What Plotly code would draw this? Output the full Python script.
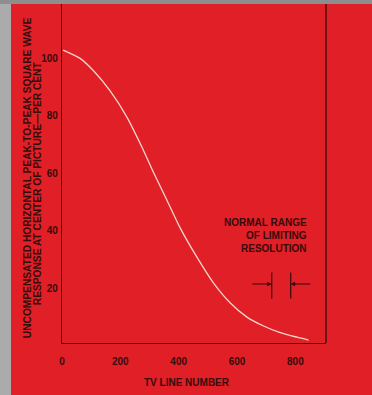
import plotly.graph_objects as go

# Data
tv_lines = [4, 62, 108, 165, 222, 279, 313, 359, 405, 462, 519, 577, 634, 691, 748, 806, 845]
response = [102.8, 99.9, 95.6, 88.6, 79.6, 68.0, 60.4, 50.8, 41.0, 30.9, 21.9, 14.9, 10.0, 6.9, 4.6, 3.0, 2.0]
x_ticks = [0, 200, 400, 600, 800]
y_ticks = [20, 40, 60, 80, 100]
limit_lo, limit_hi = 719, 784

RED = "#e11f26"
INK = "#350c0c"
FONT = "Liberation Sans"

fig = go.Figure()
fig.add_trace(go.Scatter(x=tv_lines, y=response, mode="lines",
                         line=dict(color="#f6d6cc", width=1.3, shape="spline", smoothing=0.6),
                         hoverinfo="skip", showlegend=False))

fig.update_layout(
    width=372, height=395, autosize=False,
    margin=dict(l=62, r=46, t=4, b=52),
    paper_bgcolor=RED, plot_bgcolor=RED,
    font=dict(family=FONT, color=INK, size=10, weight="bold"),
    xaxis=dict(range=[0, 905], tickvals=x_ticks, showgrid=False, zeroline=False,
               showline=True, linecolor=INK, linewidth=1.3, ticks="",
               ticklabelstandoff=9, tickfont=dict(size=10, weight="bold")),
    yaxis=dict(range=[1, 118.8], tickvals=y_ticks, showgrid=False, zeroline=False,
               showline=True, linecolor=INK, linewidth=1.3, ticks="",
               ticklabelstandoff=1, tickfont=dict(size=10, weight="bold")),
)

# right frame line
fig.add_shape(type="line", xref="paper", yref="paper", x0=1, x1=1, y0=0, y1=1,
              line=dict(color=INK, width=1.3))
# gray scan borders
fig.add_shape(type="rect", xref="paper", yref="paper",
              x0=-62/264, x1=-51/264, y0=-52/338.7, y1=1 + 4/338.7,
              line=dict(width=0), fillcolor="#ababab", layer="above")
fig.add_shape(type="rect", xref="paper", yref="paper",
              x0=-62/264, x1=1 + 46/264, y0=1, y1=1 + 4/338.7,
              line=dict(width=0), fillcolor="#8e8e8e", layer="above")

# y-axis title (two lines)
fig.add_annotation(text="UNCOMPENSATED HORIZONTAL PEAK-TO-PEAK SQUARE WAVE",
                   xref="paper", yref="paper", x=-35/264, y=(342.7-178)/338.7,
                   textangle=-90, showarrow=False, xanchor="center", yanchor="middle",
                   font=dict(size=10.2, weight="bold", color=INK))
fig.add_annotation(text="RESPONSE AT CENTER OF PICTURE\u2014PER CENT",
                   xref="paper", yref="paper", x=-25/264, y=(342.7-183)/338.7,
                   textangle=-90, showarrow=False, xanchor="center", yanchor="middle",
                   font=dict(size=10.2, weight="bold", color=INK))
# x-axis title
fig.add_annotation(text="TV LINE NUMBER", xref="paper", yref="paper",
                   x=(187-62)/264, y=-(382-342.7)/338.7, showarrow=False,
                   xanchor="center", yanchor="middle",
                   font=dict(size=10, weight="bold", color=INK))
# normal range annotation
fig.add_annotation(text="NORMAL RANGE<br>OF LIMITING<br>RESOLUTION", xref="x", yref="y",
                   x=845, y=38.5, showarrow=False, xanchor="right", yanchor="middle",
                   align="right", font=dict(size=10, weight="bold", color=INK))
for xv in (limit_lo, limit_hi):
    fig.add_shape(type="line", xref="x", yref="y", x0=xv, x1=xv, y0=16.5, y1=25.5,
                  line=dict(color=INK, width=1.2))
fig.add_annotation(x=limit_lo, y=21.5, ax=limit_lo - 72, ay=21.5, xref="x", yref="y",
                   axref="x", ayref="y", showarrow=True, arrowhead=2, arrowsize=0.8,
                   arrowwidth=1.1, arrowcolor=INK, text="")
fig.add_annotation(x=limit_hi, y=21.5, ax=limit_hi + 72, ay=21.5, xref="x", yref="y",
                   axref="x", ayref="y", showarrow=True, arrowhead=2, arrowsize=0.8,
                   arrowwidth=1.1, arrowcolor=INK, text="")

fig.write_html("out.html", config={"displayModeBar": False},
               post_script="document.body.style.margin='0';")
